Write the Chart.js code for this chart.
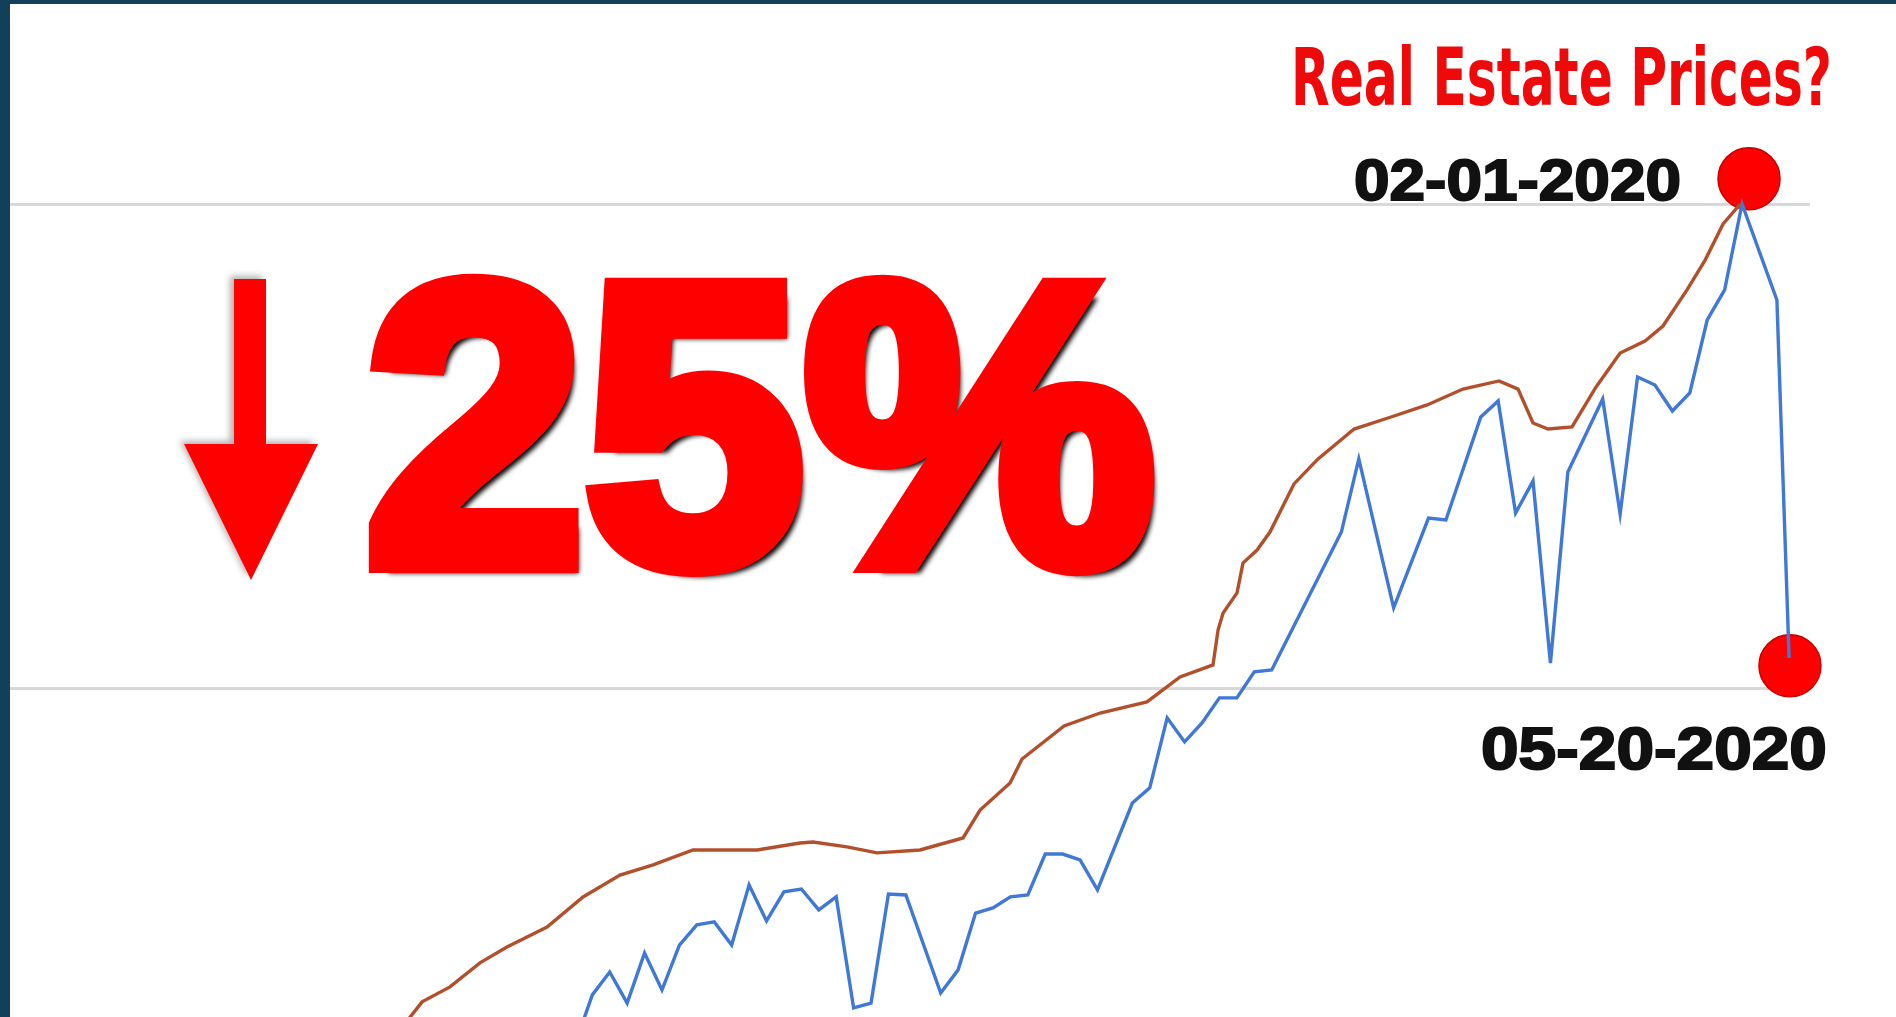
<!DOCTYPE html>
<html>
<head>
<meta charset="utf-8">
<script src="https://cdn.jsdelivr.net/npm/chart.js@4/dist/chart.umd.min.js"></script>
<style>
  html, body { margin: 0; padding: 0; }
  body { width: 1896px; height: 1017px; background: #12405a; overflow: hidden; position: relative; }
  #frame { position: absolute; left: 10px; top: 4px; width: 1886px; height: 1013px; background: #fff; }
  #chart { position: absolute; left: 0; top: 0; }
  .txt { position: absolute; white-space: nowrap; line-height: 1; transform-origin: 0 0; }
  #title { font-family: "Liberation Sans Narrow", "DejaVu Sans Condensed", "Liberation Sans", sans-serif;
           font-weight: bold; color: #ee0a0a; }
  .date { font-family: "Liberation Sans", Arial, sans-serif; font-weight: bold; color: #111;
          -webkit-text-stroke: 2px #111; }
  #drop { font-family: "Liberation Sans", Arial, sans-serif; font-weight: bold; color: #ff0000;
          -webkit-text-stroke: 20px #ff0000; text-shadow: 10px 10px 5px #000; }
  #arrow { position: absolute; left: 0; top: 0; overflow: visible; }
</style>
</head>
<body>
<div id="frame">
  <canvas id="chart" width="1886" height="1013"></canvas>
</div>
<svg id="arrow" width="1896" height="1017">
  <defs>
    <filter id="soft" x="-20%" y="-20%" width="140%" height="140%">
      <feDropShadow dx="-4" dy="-3" stdDeviation="3" flood-color="#000" flood-opacity="0.3"/>
    </filter>
  </defs>
  <polygon filter="url(#soft)" fill="#ff0000"
           points="234,279 266,279 266,444 318,444 251,580 184,444 234,444"/>
</svg>
<div id="drop" class="txt">25%</div>
<div id="title" class="txt">Real Estate Prices?</div>
<div id="dateTop" class="txt date">02-01-2020</div>
<div id="dateBottom" class="txt date">05-20-2020</div>
<script>
// stock index, weekly samples (x = sample number)
const marketX = [33, 34, 35, 36, 37, 38, 39, 40, 41, 42, 43, 44, 45, 46, 47, 48, 49, 50, 51, 52,
                 54, 55, 56, 57, 58, 59, 60, 61, 62, 63, 65, 66, 67, 68, 69, 70, 71, 72, 73,
                 77, 78, 80, 82, 83, 85, 86, 87, 88, 89, 90, 92, 93, 94, 95, 96, 97, 98, 99, 100,
                 102, 102.7];
const marketIndex = [56.65, 59.23, 60.41, 58.81, 61.39, 59.48, 61.80, 62.84, 62.99, 61.80,
                     64.90, 63.04, 64.54, 64.69, 63.61, 64.28, 58.56, 58.81, 64.43, 64.38,
                     59.33, 60.52, 63.45, 63.71, 64.28, 64.38, 66.49, 66.49, 66.19, 64.64,
                     69.12, 69.90, 73.51, 72.27, 73.25, 74.54, 74.54, 75.88, 75.98,
                     83.09, 86.86, 79.18, 83.81, 83.71, 89.02, 89.85, 84.07, 85.72, 76.34, 86.19,
                     89.95, 84.02, 91.08, 90.67, 89.33, 90.26, 94.02, 95.57, 100,
                     95.05, 76.6];

// home price index, same x units
const homeX = [22.96, 24.23, 25.83, 27.55, 29.10, 31.40, 33.47, 35.59, 37.49, 39.78,
               43.46, 45.92, 46.67, 48.62, 50.34, 52.81, 55.28, 56.26, 57.98, 58.67,
               61.08, 63.15, 65.84, 67.74, 69.63, 69.92, 70.21, 71.01, 71.35, 72.16,
               72.90, 74.28, 75.66, 77.73, 79.85, 81.92, 83.98, 86.05, 87.14, 88.00,
               88.86, 90.24, 91.62, 93.00, 94.43, 95.46, 96.84, 97.88, 98.91, 99.9];
const homePriceIndex = [57.42, 58.87, 59.64, 60.88, 61.70, 62.73, 64.28, 65.41, 65.93, 66.70,
                        66.70, 67.06, 67.11, 66.86, 66.55, 66.70, 67.32, 68.76, 70.15, 71.39,
                        73.09, 73.76, 74.33, 75.62, 76.24, 78.04, 78.92, 79.95, 81.49, 82.16,
                        83.09, 85.57, 86.86, 88.40, 89.02, 89.64, 90.46, 90.88, 90.46, 88.71,
                        88.40, 88.51, 90.57, 92.32, 92.94, 93.71, 95.57, 97.11, 98.97, 100];

// highlighted dates
const markerDates = ["02-01-2020", "05-20-2020"];
const markerX = [100.4, 102.75];
const markerY = [101.3, 76.2];

// horizontal reference lines: peak level and 25% below it
const gridValues = [75, 100];

const toPoints = (xs, ys) => xs.map((x, i) => ({ x: x, y: ys[i] }));

const chart = new Chart(document.getElementById("chart"), {
    type: "line",
    data: {
        datasets: [{
            data: toPoints(homeX, homePriceIndex),
            borderColor: "#b2502c",
            borderWidth: 3.4,
            pointRadius: 0,
            tension: 0
        }, {
            data: toPoints(marketX, marketIndex),
            borderColor: "#4078d6",
            borderWidth: 3.4,
            pointRadius: 0,
            tension: 0
        }, {
            data: toPoints(markerX, markerY),
            showLine: false,
            pointRadius: 31,
            pointBackgroundColor: "#ff0000",
            pointBorderColor: "#c80000",
            pointBorderWidth: 1.5,
            clip: false
        }]
    },
    options: {
        responsive: false,
        animation: false,
        devicePixelRatio: 1,
        layout: { autoPadding: false, padding: { left: 0, right: 86, top: 0, bottom: 0 } },
        plugins: {
            legend: { display: false },
            tooltip: { enabled: false }
        },
        scales: {
            x: { type: "linear", min: 0.574, max: 103.9, display: false },
            y: {
                min: 58.09,
                max: 110.31,
                afterBuildTicks: (scale) => {
                    scale.ticks = gridValues.map(v => ({ value: v }));
                },
                afterFit: (scale) => { scale.width = 0; },
                grid: { color: "#d8d8d8", lineWidth: 3, drawTicks: false },
                border: { display: false },
                ticks: { display: false, padding: 0 }
            }
        }
    }
});

// place a label by its baseline and stretch it to a given width
function placeText(id, text, left, baseline, size, width) {
    const el = document.getElementById(id);
    el.textContent = text;
    el.style.fontSize = size + "px";
    el.style.left = left + "px";
    el.style.top = (baseline - 0.8465 * size) + "px";
    const w = el.getBoundingClientRect().width;
    el.style.transform = "scaleX(" + (width / w) + ")";
}

placeText("title", "Real Estate Prices?", 1291, 106, 80, 541);
placeText("dateTop", markerDates[0], 1354, 200, 57, 327);
placeText("dateBottom", markerDates[1], 1481, 770, 60, 346);
placeText("drop", "25%", 365, 564, 400, 790);
</script>
</body>
</html>
